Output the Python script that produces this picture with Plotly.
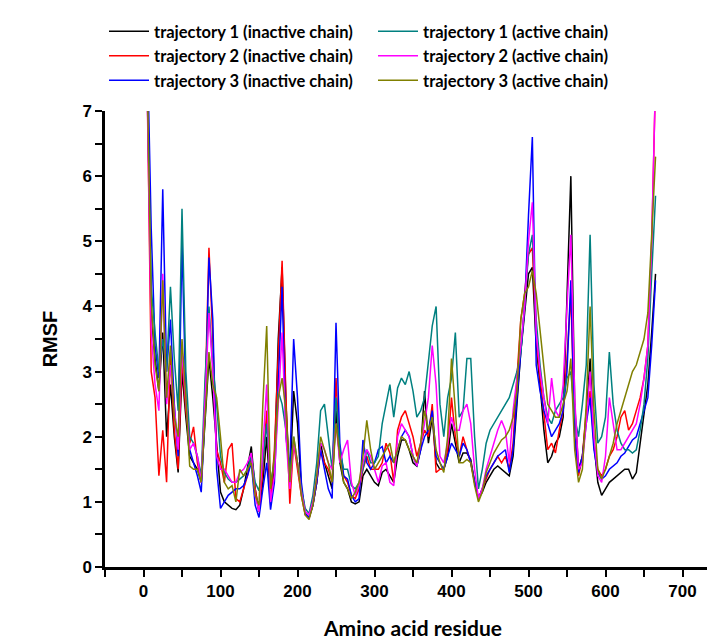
import plotly.graph_objects as go

residues = list(range(5, 666, 5))

t1_inactive = [
    7.5, 3.9, 3.2, 2.7, 3.6, 2.0, 2.8, 2.0, 1.45, 3.0,
    2.3, 1.7, 1.6, 1.5, 1.3, 2.2, 3.2, 2.6, 1.8, 1.15,
    1.0, 0.95, 0.9, 0.88, 0.95, 1.2, 1.5, 1.85, 1.2, 0.85,
    1.3, 2.0, 1.0, 1.5, 3.5, 4.6, 2.5, 1.3, 2.7, 2.2,
    1.2, 0.82, 0.76, 0.95, 1.3, 1.9, 1.6, 1.4, 1.2, 2.4,
    1.6, 1.3, 1.2, 1.0, 0.97, 1.0, 1.4, 1.5, 1.4, 1.3,
    1.25, 1.45, 1.5, 1.4, 1.3, 1.7, 1.95, 1.95, 1.8, 1.6,
    1.55, 1.8, 2.7, 1.9, 2.3, 1.6, 1.5, 1.5, 1.7, 2.2,
    1.9, 1.6, 1.75, 1.75, 1.65, 1.3, 1.05, 1.15, 1.3, 1.4,
    1.5, 1.55, 1.5, 1.45, 1.4, 1.7, 2.5, 3.3, 3.9, 4.5,
    4.6, 3.4, 2.8, 2.1, 1.6, 1.7, 1.9, 2.0, 2.3, 4.0,
    6.0, 2.5, 1.5, 1.7, 2.3, 3.2, 1.9, 1.3, 1.1, 1.2,
    1.3, 1.35, 1.4, 1.45, 1.5, 1.5, 1.35, 1.45, 1.9, 2.3,
    2.8, 3.6, 4.5,
]
t2_inactive = [
    7.3, 3.0, 2.6, 1.4, 2.1, 1.3, 3.3, 2.1, 1.5, 3.2,
    2.4, 1.9, 2.15, 1.6, 1.3, 2.6, 4.9, 3.5, 1.8, 1.6,
    1.3, 1.8, 1.9, 1.05, 1.0, 1.2, 1.4, 1.7, 1.2, 0.85,
    1.5, 2.4, 1.0, 1.8, 3.2, 4.7, 2.6, 0.97, 1.9, 1.5,
    1.1, 0.8, 0.75, 0.95, 1.3, 1.8, 1.6, 1.5, 1.3, 2.9,
    1.7, 1.4, 1.3, 1.1, 1.05, 1.2, 1.5, 1.7, 1.5, 1.5,
    1.5, 1.6, 1.9, 1.75, 1.3, 2.1, 2.3, 2.4, 2.2, 2.0,
    1.7, 1.9, 2.1, 2.0, 2.5, 1.45, 1.5, 1.5, 1.8, 2.6,
    2.0, 1.7, 2.0, 1.8, 1.6, 1.3, 1.05, 1.2, 1.35, 1.5,
    1.6, 1.7, 1.6, 1.7, 1.5, 1.9, 2.9, 3.8, 4.2, 4.8,
    4.9, 3.5, 2.9, 2.3, 1.8, 1.9, 1.75, 2.1, 2.4, 3.2,
    4.2, 2.0, 1.4, 1.7, 2.4, 2.7, 1.9, 1.5, 1.4, 1.5,
    1.7, 1.8, 2.0, 2.3, 2.4, 2.1, 2.2, 2.4, 2.6, 2.9,
    3.4, 5.0, 7.5,
]
t3_inactive = [
    8.0, 5.2, 3.4, 2.9, 5.8, 3.0, 3.8, 2.5, 1.7, 5.0,
    2.6, 1.8, 1.6, 1.4, 1.15, 2.4, 4.75, 3.8, 1.5, 0.9,
    1.0, 1.1, 1.15, 1.2, 1.2, 1.25, 1.4, 1.6, 0.95, 0.76,
    1.2, 1.6, 0.88, 1.3, 2.8, 4.3, 2.0, 1.5, 3.5, 2.6,
    1.3, 0.82, 0.76, 0.95, 1.3, 1.8, 1.5, 1.2, 1.05, 3.75,
    1.9, 1.4, 1.35, 1.1, 1.0, 1.05, 1.95, 1.6, 1.5, 1.6,
    1.8, 1.85, 1.6, 1.7, 1.6, 1.8, 2.0, 2.1, 2.0, 1.7,
    1.55, 1.8, 2.0, 2.1, 2.4, 1.7, 1.6, 1.5, 1.7, 1.9,
    1.8, 1.7, 1.9, 1.8, 1.6, 1.3, 1.05, 1.2, 1.4, 1.5,
    1.6, 1.7, 1.75, 1.8, 1.45, 1.8, 2.6, 3.3, 4.0, 5.4,
    6.6, 3.1, 2.7, 2.4, 2.2, 2.0, 2.1, 2.2, 2.4, 3.0,
    4.4, 2.0, 1.45, 1.7, 2.2, 2.6, 1.8, 1.45, 1.35, 1.4,
    1.5, 1.55, 1.6, 1.7, 1.75, 1.85, 1.95, 2.0, 2.2, 2.4,
    2.6, 3.4, 4.4,
]
t1_active = [
    7.2, 4.3, 3.6, 3.0, 3.5, 3.0, 4.3, 3.2, 2.4, 5.5,
    3.0, 2.0, 1.9, 1.7, 1.4, 2.9, 4.0, 3.1, 2.5, 1.7,
    1.45, 1.35, 1.3, 1.3, 1.35, 1.4, 1.5, 1.7, 1.3, 1.17,
    1.6, 2.2, 1.3, 1.6, 2.7, 2.5, 2.1, 1.4, 2.0, 1.6,
    1.2, 0.9, 0.82, 1.1, 1.6, 2.4, 2.5, 2.0, 1.5, 2.6,
    1.8, 1.5, 1.5, 1.25, 1.2, 1.3, 1.5, 1.8, 1.6, 1.6,
    1.7, 2.2, 2.5, 2.8, 2.3, 2.75, 2.9, 2.8, 3.0, 2.7,
    2.3, 2.4, 2.6, 3.2, 3.7, 4.0, 2.5, 2.0, 2.6, 2.9,
    3.6, 2.3, 2.4, 3.2, 3.2, 2.0, 1.2, 1.5, 1.9, 2.1,
    2.2, 2.3, 2.4, 2.5, 2.6, 2.8, 3.0, 3.3, 4.0, 4.8,
    5.1, 3.8, 3.1, 2.6, 2.3, 2.2, 2.4, 2.5, 2.6, 2.9,
    3.0, 2.3, 2.0, 2.5, 3.1, 5.1, 2.8, 1.9, 2.0, 2.3,
    3.3, 2.5, 2.1, 1.9, 1.8, 1.8, 1.75, 1.8, 2.1, 2.5,
    3.2, 4.5, 5.7,
]
t2_active = [
    7.1, 3.6, 2.8, 2.4, 4.5, 2.5, 3.1, 2.4, 1.8, 3.3,
    2.5, 1.8, 1.9, 1.7, 1.3, 2.5, 3.9, 3.0, 1.7, 1.5,
    1.5, 1.4, 1.3, 1.3, 1.45, 1.5, 1.6, 1.75, 1.1, 0.85,
    1.8, 2.8, 1.0, 1.4, 2.5, 3.6, 2.0, 1.2, 1.9, 1.6,
    1.15, 0.85, 0.8, 1.0, 1.4, 1.9, 1.8, 1.6, 1.5, 2.2,
    1.6, 1.8, 1.95, 1.3, 1.1, 1.25, 1.6, 1.8, 1.7, 1.5,
    1.3, 1.55, 1.6, 1.3, 1.25, 2.0, 2.2, 2.1, 2.0, 1.7,
    1.55, 1.9, 2.2, 2.6, 3.4, 2.8, 1.7, 1.6, 1.9, 2.3,
    2.1, 2.1, 2.4, 2.5, 2.2, 1.5, 1.05, 1.2, 1.5, 1.7,
    1.9, 2.1, 2.25, 2.1, 1.6, 2.4, 2.9, 3.4, 4.0, 5.0,
    5.6, 3.6, 3.0, 2.6, 2.2, 2.9, 2.4, 2.3, 2.8, 4.0,
    5.1, 2.6, 1.5, 1.6, 2.2, 3.0, 2.0, 1.4, 1.3, 1.7,
    2.6, 2.2, 1.8, 1.8, 1.9, 2.0, 2.1, 2.2, 2.5, 2.9,
    3.4, 5.0, 7.5,
]
t3_active = [
    7.4, 4.1, 3.1, 2.7, 4.4, 2.6, 3.4, 2.3, 2.0, 3.5,
    2.6, 1.55, 1.5, 1.5, 1.3, 2.4, 3.3, 2.8, 2.6, 2.0,
    1.3, 1.2, 1.25, 1.0, 1.5, 1.4, 1.5, 1.6, 1.1, 0.95,
    2.5, 3.7, 1.2, 1.7, 2.6, 2.9, 2.4, 1.3, 2.0, 1.6,
    1.1, 0.8, 0.73, 0.95, 1.4, 2.0, 1.8, 1.6, 1.3, 2.2,
    1.7, 1.3, 1.2, 1.05, 1.15, 1.3, 1.7, 2.25, 1.8, 1.5,
    1.6, 1.7, 1.8, 1.9, 1.6, 1.8, 2.0, 1.95, 1.8, 1.7,
    1.6, 1.9, 2.4, 2.1, 2.3, 1.8, 1.6, 1.45, 2.0, 3.2,
    2.4, 1.6, 1.6, 1.65, 1.6, 1.25, 1.0, 1.15, 1.45, 1.6,
    1.75, 1.85, 1.95, 2.0, 2.1, 2.3, 2.7, 3.8, 4.2, 4.3,
    4.55, 4.2, 3.6, 3.0, 2.5, 2.4, 2.3, 2.3, 2.5, 2.7,
    3.2, 1.8, 1.3, 1.5, 2.5, 4.0, 2.4, 1.5, 1.35, 1.5,
    1.7, 1.9, 2.2, 2.4, 2.6, 2.8, 3.0, 3.1, 3.3, 3.5,
    3.9, 5.0, 6.3,
]

series_names = [
    "trajectory 1 (inactive chain)",
    "trajectory 2 (inactive chain)",
    "trajectory 3 (inactive chain)",
    "trajectory 1 (active chain)",
    "trajectory 2 (active chain)",
    "trajectory 3 (active chain)",
]
series_values = [t1_inactive, t2_inactive, t3_inactive, t1_active, t2_active, t3_active]
series_colors = ["#000000", "#FF0000", "#0000FF", "#008080", "#FF00FF", "#808000"]
legend_ranks = [1, 3, 5, 2, 4, 6]

fig = go.Figure()
for name, vals, col, rank in zip(series_names, series_values, series_colors, legend_ranks):
    fig.add_trace(go.Scatter(
        x=residues, y=vals, mode="lines", name=name,
        line=dict(color=col, width=1.5), legendrank=rank,
    ))

axis_common = dict(
    showline=True, linecolor="black", linewidth=2.5,
    ticks="outside", ticklen=7, tickwidth=2, tickcolor="black",
    showgrid=False, zeroline=False,
    tickfont=dict(family="Liberation Sans, Arial", size=17, color="black", weight="bold"),
)

fig.update_layout(
    width=715, height=639,
    plot_bgcolor="white", paper_bgcolor="white",
    margin=dict(l=97, r=2, t=103, b=80, autoexpand=False),
    showlegend=True,
    legend=dict(
        orientation="h", xref="container", yref="container",
        x=96 / 715, xanchor="left", y=1 - 6 / 639, yanchor="top",
        entrywidth=214, entrywidthmode="pixels", traceorder="normal",
        font=dict(family="Lato, Open Sans, sans-serif", size=16.5, color="black", weight="bold"),
        bgcolor="rgba(0,0,0,0)", itemwidth=40, tracegroupgap=0,
    ),
    xaxis=dict(
        range=[-50, 750], tickmode="array", tickvals=[0, 100, 200, 300, 400, 500, 600, 700],
        minor=dict(tickvals=[-50, 50, 150, 250, 350, 450, 550, 650, 750], ticks="outside",
                   ticklen=7, tickwidth=2, tickcolor="black"),
        title=dict(text="Amino acid residue", standoff=22,
                   font=dict(family="Lato, Open Sans, sans-serif", size=21, color="black", weight="bold")),
        **axis_common,
    ),
    yaxis=dict(
        range=[0, 7], tickmode="array", tickvals=[0, 1, 2, 3, 4, 5, 6, 7],
        minor=dict(tickvals=[0.5, 1.5, 2.5, 3.5, 4.5, 5.5, 6.5], ticks="outside",
                   ticklen=7, tickwidth=2, tickcolor="black"),
        title=dict(text="RMSF", standoff=20,
                   font=dict(family="Liberation Sans, Arial", size=20, color="black", weight="bold")),
        **axis_common,
    ),
)

fig.write_html("out.html")
